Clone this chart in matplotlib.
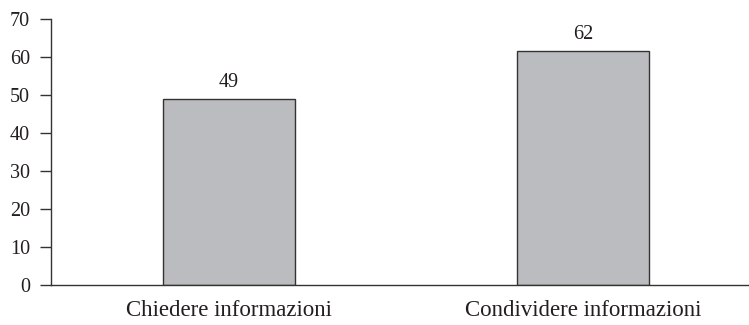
import matplotlib
matplotlib.use("Agg")
import matplotlib.pyplot as plt

categories = ["Chiedere informazioni", "Condividere informazioni"]
values = [48.9, 61.7]
labels = ["49", "62"]
yticks = [0, 10, 20, 30, 40, 50, 60, 70]

plt.rcParams['font.family'] = ['Liberation Serif', 'DejaVu Serif']
txt = '#231f20'

fig = plt.figure(figsize=(7.49, 3.25), dpi=100)
ax = fig.add_axes([51/749, 1-285/325, 1-51/749, (285-19)/325])

x = list(range(len(categories)))
bars = ax.bar(x, values, width=0.375, color='#bbbcc0', edgecolor='#333333', linewidth=1.0, zorder=2)
for b, lab in zip(bars, labels):
    ax.annotate(lab, (b.get_x()+b.get_width()/2, b.get_height()), xytext=(0, 5),
                textcoords='offset points', ha='center', va='bottom', fontsize=14.5, color=txt)

ax.set_xlim(-0.503, 1.469)
ax.set_ylim(0, 70)
ax.set_yticks(yticks)
ax.set_xticks(x)
ax.set_xticklabels(categories)
ax.tick_params(axis='y', length=8, width=1, color='#333333', labelsize=14.5, labelcolor=txt, pad=7)
ax.tick_params(axis='x', length=0, labelsize=16.5, labelcolor=txt, pad=11)
for s in ['top', 'right']:
    ax.spines[s].set_visible(False)
for s in ['left', 'bottom']:
    ax.spines[s].set_color('#333333')
    ax.spines[s].set_linewidth(1.0)

fig.savefig('out.png', dpi=100)
